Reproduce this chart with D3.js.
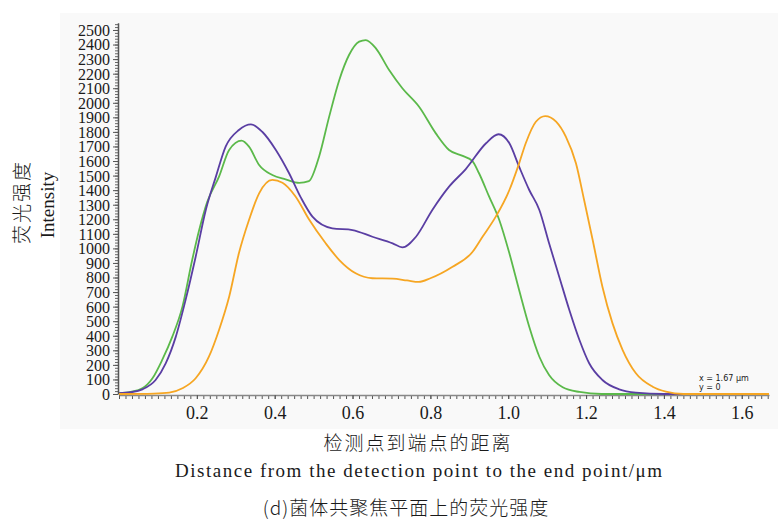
<!DOCTYPE html>
<meta charset="utf-8">
<script src="https://d3js.org/d3.v7.min.js"></script>
<style>
  body { margin: 0; background: #fff; }
  svg text { font-family: "Liberation Serif", "DejaVu Serif", serif; fill: #1a1a1a; }
  .cjk { font-family: "Noto Sans CJK SC", sans-serif; font-weight: 300; }
</style>
<div id="my_dataviz"></div>
<script>

// data (distance in um, intensity)
var greenX  = [0, 0.03, 0.06, 0.086, 0.111, 0.137, 0.163, 0.188, 0.206, 0.227, 0.257, 0.283, 0.315, 0.334, 0.36, 0.394, 0.428, 0.463, 0.488, 0.514, 0.54, 0.566, 0.591, 0.617, 0.634, 0.66, 0.694, 0.728, 0.771, 0.814, 0.848, 0.883, 0.908, 0.925, 0.951, 0.977, 1.003, 1.028, 1.054, 1.08, 1.105, 1.14, 1.183, 1.24, 1.67];
var greenY  = [5, 15, 39, 108, 234, 394, 600, 920, 1126, 1321, 1493, 1676, 1740, 1699, 1573, 1504, 1474, 1450, 1462, 1630, 1905, 2157, 2328, 2420, 2431, 2374, 2225, 2100, 1973, 1790, 1676, 1635, 1600, 1516, 1355, 1195, 966, 714, 462, 256, 130, 46, 14, 0, 0];

var purpleX = [0, 0.03, 0.06, 0.094, 0.12, 0.146, 0.171, 0.197, 0.223, 0.249, 0.274, 0.308, 0.339, 0.368, 0.403, 0.437, 0.467, 0.497, 0.548, 0.6, 0.651, 0.703, 0.728, 0.763, 0.805, 0.848, 0.891, 0.943, 0.975, 1.003, 1.028, 1.054, 1.08, 1.105, 1.131, 1.157, 1.183, 1.208, 1.242, 1.285, 1.328, 1.4, 1.67];
var purpleY = [5, 12, 32, 96, 210, 394, 645, 943, 1264, 1493, 1699, 1813, 1852, 1801, 1676, 1516, 1350, 1218, 1138, 1126, 1080, 1035, 1007, 1080, 1264, 1424, 1545, 1722, 1784, 1722, 1561, 1401, 1264, 1035, 806, 577, 371, 211, 96, 32, 9, 0, 0];

var orangeX = [0, 0.09, 0.129, 0.163, 0.197, 0.231, 0.257, 0.283, 0.308, 0.334, 0.36, 0.394, 0.42, 0.454, 0.488, 0.531, 0.566, 0.608, 0.651, 0.703, 0.74, 0.77, 0.8, 0.857, 0.908, 0.934, 0.968, 1.003, 1.028, 1.045, 1.071, 1.095, 1.123, 1.148, 1.174, 1.195, 1.217, 1.242, 1.268, 1.294, 1.328, 1.371, 1.405, 1.45, 1.67];
var orangeY = [0, 3, 9, 39, 108, 256, 440, 668, 966, 1195, 1378, 1470, 1451, 1355, 1200, 1035, 920, 829, 795, 792, 780, 770, 795, 874, 975, 1080, 1218, 1401, 1584, 1722, 1870, 1909, 1870, 1767, 1584, 1332, 1058, 737, 485, 302, 142, 50, 16, 0, 0];

var seriesNames  = ["green", "purple", "orange"];
var seriesColors = ["#5bb94a", "#5a3ea3", "#f6a623"];

var yTicks = d3.range(0, 2501, 100);
var xTicks = [0.2, 0.4, 0.6, 0.8, 1.0, 1.2, 1.4, 1.6];

var W = 778, H = 520;

var svg = d3.select("#my_dataviz")
  .append("svg")
    .attr("width", W)
    .attr("height", H);

// faint grey panel behind the plot
svg.append("rect")
  .attr("x", 60).attr("y", 13)
  .attr("width", W - 60).attr("height", 416)
  .attr("fill", "#f9f9f9");

var x = d3.scaleLinear().domain([0, 1.67]).range([119, 769]);
var y = d3.scaleLinear().domain([0, 2550]).range([394, 22.7]);

// minor ticks on y
svg.append("g")
  .attr("transform", "translate(118,0)")
  .call(d3.axisLeft(y).tickValues(d3.range(0, 2541, 20)).tickSize(3).tickFormat(""))
  .call(function(g) { g.selectAll("line").attr("stroke", "#666"); g.select(".domain").remove(); });

// y axis with labels
var yAxis = svg.append("g")
  .attr("transform", "translate(118,0)")
  .call(d3.axisLeft(y).tickValues(yTicks).tickSize(5).tickSizeOuter(0).tickPadding(3).tickFormat(d3.format("d")));
yAxis.select(".domain").attr("stroke", "#555").attr("stroke-width", 1.5);
yAxis.selectAll("line").attr("stroke", "#555");
yAxis.selectAll("text")
  .style("font-family", "'Liberation Serif', serif")
  .style("font-size", "16px")
  .attr("dy", "0.34em")
  .attr("fill", "#1a1a1a");

// x minor ticks
svg.append("g")
  .attr("transform", "translate(0,395)")
  .call(d3.axisBottom(x).tickValues(d3.range(0, 1.675, 1 / 60)).tickSize(4).tickFormat(""))
  .call(function(g) { g.selectAll("line").attr("stroke", "#555"); g.select(".domain").remove(); });

var xAxis = svg.append("g")
  .attr("transform", "translate(0,395)")
  .call(d3.axisBottom(x).tickValues(xTicks).tickSize(4).tickSizeOuter(0).tickPadding(7).tickFormat(d3.format(".1f")));
xAxis.select(".domain").attr("stroke", "#888").attr("stroke-width", 1.5);
xAxis.selectAll("line").attr("stroke", "#555");
xAxis.selectAll("text")
  .style("font-family", "'Liberation Serif', serif")
  .style("font-size", "18px")
  .attr("fill", "#1a1a1a");

// the three profiles
var line = d3.line()
  .x(function(d) { return x(d[0]); })
  .y(function(d) { return y(d[1]); })
  .curve(d3.curveMonotoneX);

var allX = [greenX, purpleX, orangeX];
var allY = [greenY, purpleY, orangeY];

seriesNames.forEach(function(name, i) {
  var pts = allX[i].map(function(v, j) { return [v, allY[i][j]]; });
  svg.append("path")
    .datum(pts)
    .attr("class", "line-" + name)
    .attr("fill", "none")
    .attr("stroke", seriesColors[i])
    .attr("stroke-width", 1.8)
    .attr("d", line);
});

// cursor readout
svg.append("text")
  .attr("x", 699).attr("y", 381)
  .style("font-family", "DejaVu Sans")
  .style("font-size", "8px")
  .attr("fill", "#333")
  .text("x = 1.67 μm");
svg.append("text")
  .attr("x", 699).attr("y", 390)
  .style("font-family", "DejaVu Sans")
  .style("font-size", "8px")
  .attr("fill", "#333")
  .text("y = 0");

// y titles
svg.append("text")
  .attr("class", "cjk")
  .attr("transform", "translate(29,202) rotate(-90)")
  .attr("text-anchor", "middle")
  .style("font-size", "19px")
  .style("letter-spacing", "2px")
  .text("荧光强度");
svg.append("text")
  .attr("transform", "translate(54,205) rotate(-90)")
  .attr("text-anchor", "middle")
  .style("font-size", "19px")
  .text("Intensity");

// x titles
svg.append("text")
  .attr("class", "cjk")
  .attr("x", 418).attr("y", 450)
  .attr("text-anchor", "middle")
  .style("font-size", "19px")
  .style("letter-spacing", "2px")
  .text("检测点到端点的距离");
svg.append("text")
  .attr("x", 175).attr("y", 477)
  .attr("textLength", 487)
  .attr("lengthAdjust", "spacing")
  .style("font-size", "19px")
  .text("Distance from the detection point to the end point/μm");

// caption
svg.append("text")
  .attr("class", "cjk")
  .attr("x", 406).attr("y", 515)
  .attr("text-anchor", "middle")
  .style("font-size", "19px")
  .style("letter-spacing", "1px")
  .text("(d)菌体共聚焦平面上的荧光强度");

</script>
